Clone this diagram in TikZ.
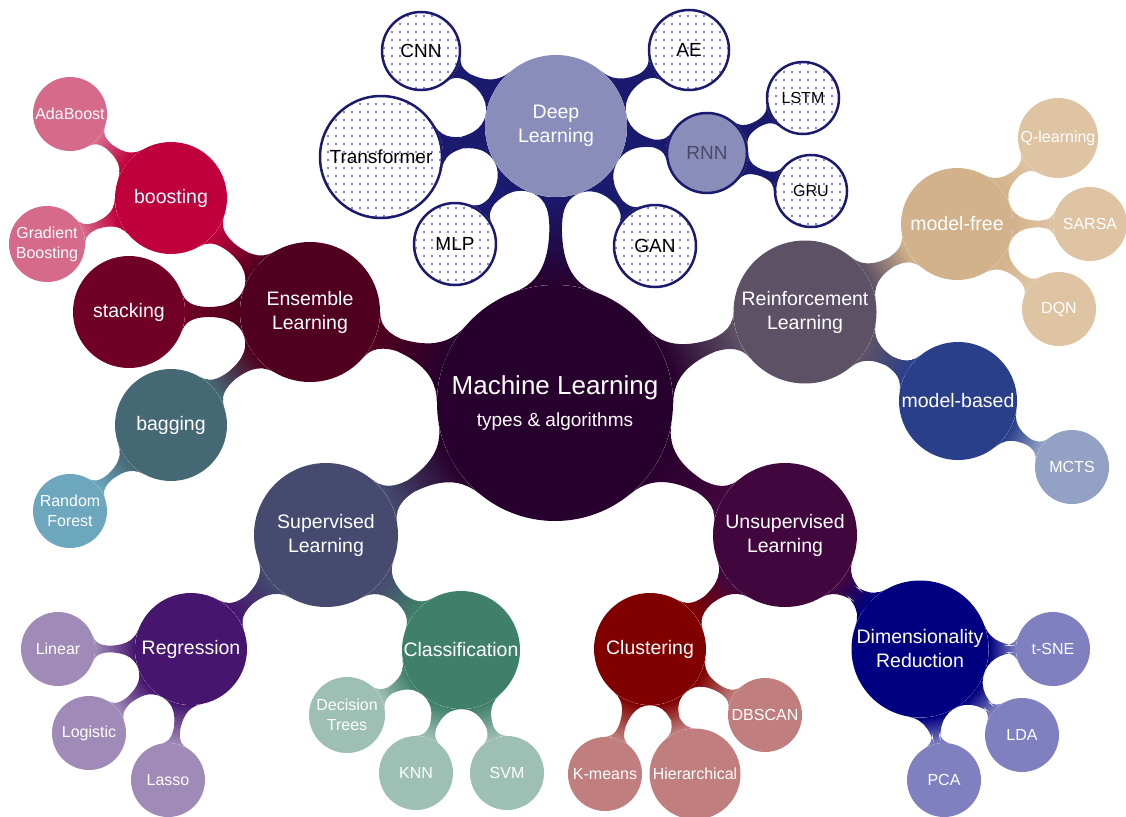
\documentclass[tikz,border=0pt]{standalone}
\usepackage{fontspec}
\setmainfont{Liberation Sans}
\usetikzlibrary{mindmap,backgrounds,patterns.meta}
\definecolor{cRoot}{RGB}{40,0,45}
\definecolor{cDL}{RGB}{138,140,186}
\definecolor{cDot}{RGB}{130,128,196}
\definecolor{cNavy}{RGB}{26,26,110}
\definecolor{cEns}{RGB}{80,0,30}
\definecolor{cRL}{RGB}{93,81,102}
\definecolor{cSup}{RGB}{69,74,110}
\definecolor{cUns}{RGB}{66,6,62}
\definecolor{cBoost}{RGB}{192,0,60}
\definecolor{cStack}{RGB}{112,0,37}
\definecolor{cBag}{RGB}{69,104,117}
\definecolor{cPink}{RGB}{214,106,139}
\definecolor{cRF}{RGB}{108,167,189}
\definecolor{cMF}{RGB}{209,178,139}
\definecolor{cMB}{RGB}{42,63,138}
\definecolor{cTan}{RGB}{223,196,164}
\definecolor{cMCTS}{RGB}{147,161,197}
\definecolor{cReg}{RGB}{70,22,110}
\definecolor{cCla}{RGB}{64,128,106}
\definecolor{cLPurp}{RGB}{160,138,184}
\definecolor{cLGreen}{RGB}{158,191,179}
\definecolor{cClu}{RGB}{128,0,0}
\definecolor{cDim}{RGB}{0,0,128}
\definecolor{cLRed}{RGB}{192,127,126}
\definecolor{cLBlue}{RGB}{128,128,192}
\definecolor{cRNNtext}{RGB}{74,74,106}
\begin{document}
\begin{tikzpicture}[x=1pt,y=1pt,
  bub/.style={circle,inner sep=0pt,align=center,text=white,font=\fontsize{19.5}{24}\selectfont},
  leaf/.style={bub,font=\fontsize{16}{20}\selectfont},
  dotted node/.style={circle,inner sep=0pt,align=center,text=black,draw=cNavy,line width=2.5pt,
    preaction={fill=white},pattern={Dots[distance=8pt,radius=1.3pt]},pattern color=cDot,
    font=\fontsize{19}{23}\selectfont},
  bar1/.style={line width=16pt},
  bar2/.style={line width=10pt},
  bar3/.style={line width=7pt},
]
\useasboundingbox (0,0) rectangle (1126,-816);
% root
\node[bub,fill=cRoot,minimum size=236pt] (root) at (555,-403)
  {\fontsize{26}{30}\selectfont Machine Learning\\[8pt]\fontsize{19}{22}\selectfont types \& algorithms};
% level 1
\node[bub,fill=cDL,minimum size=142pt] (dl) at (556,-126) {Deep\\Learning};
\node[bub,fill=cEns,minimum size=140pt] (ens) at (310,-312) {Ensemble\\Learning};
\node[bub,fill=cRL,minimum size=143pt] (rl) at (805,-312) {Reinforcement\\Learning};
\node[bub,fill=cSup,minimum size=144pt] (sup) at (326,-535) {Supervised\\Learning};
\node[bub,fill=cUns,minimum size=144pt] (uns) at (785,-535) {Unsupervised\\Learning};
% deep learning children
\node[dotted node,minimum size=78pt] (cnn) at (421,-51) {CNN};
\node[dotted node,minimum size=80pt] (ae) at (689,-50) {AE};
\node[dotted node,minimum size=122pt] (tr) at (381,-157) {Transformer};
\node[dotted node,minimum size=82pt] (mlp) at (455,-244) {MLP};
\node[dotted node,minimum size=82pt] (gan) at (655,-246) {GAN};
\node[bub,fill=cDL,draw=cNavy,line width=2.5pt,text=cRNNtext,font=\fontsize{19}{23}\selectfont,minimum size=80pt] (rnn) at (707,-153) {RNN};
\node[dotted node,minimum size=72pt,font=\fontsize{16}{20}\selectfont] (lstm) at (803,-98) {LSTM};
\node[dotted node,minimum size=72pt,font=\fontsize{16}{20}\selectfont] (gru) at (811,-191) {GRU};
% ensemble children
\node[bub,fill=cBoost,minimum size=112pt] (boost) at (171,-198) {boosting};
\node[bub,fill=cStack,minimum size=112pt] (stack) at (129,-312) {stacking};
\node[bub,fill=cBag,minimum size=112pt] (bag) at (171,-425) {bagging};
\node[leaf,fill=cPink,minimum size=74pt] (ada) at (70,-114) {AdaBoost};
\node[leaf,fill=cPink,minimum size=76pt] (gb) at (47,-244) {Gradient\\Boosting};
\node[leaf,fill=cRF,minimum size=74pt] (rf) at (70,-511) {Random\\Forest};
% reinforcement children
\node[bub,fill=cMF,minimum size=112pt] (mf) at (957,-224) {model-free};
\node[bub,fill=cMB,minimum size=118pt] (mb) at (958,-401) {model-based};
\node[leaf,fill=cTan,minimum size=80pt] (ql) at (1058,-138) {Q-learning};
\node[leaf,fill=cTan,minimum size=74pt] (sarsa) at (1090,-224) {SARSA};
\node[leaf,fill=cTan,minimum size=74pt] (dqn) at (1059,-309) {DQN};
\node[leaf,fill=cMCTS,minimum size=74pt] (mcts) at (1072,-467) {MCTS};
% supervised children
\node[bub,fill=cReg,minimum size=112pt] (reg) at (191,-649) {Regression};
\node[bub,fill=cCla,minimum size=118pt] (cla) at (461,-650) {Classification};
\node[leaf,fill=cLPurp,minimum size=74pt] (lin) at (58,-649) {Linear};
\node[leaf,fill=cLPurp,minimum size=74pt] (log) at (89,-733) {Logistic};
\node[leaf,fill=cLPurp,minimum size=74pt] (las) at (168,-780) {Lasso};
\node[leaf,fill=cLGreen,minimum size=76pt] (dt) at (347,-715) {Decision\\Trees};
\node[leaf,fill=cLGreen,minimum size=74pt] (knn) at (416,-773) {KNN};
\node[leaf,fill=cLGreen,minimum size=74pt] (svm) at (507,-773) {SVM};
% unsupervised children
\node[bub,fill=cClu,minimum size=112pt] (clu) at (650,-649) {Clustering};
\node[bub,fill=cDim,minimum size=137pt] (dim) at (920,-649) {Dimensionality\\Reduction};
\node[leaf,fill=cLRed,minimum size=74pt] (km) at (605,-774) {K-means};
\node[leaf,fill=cLRed,minimum size=91pt] (hier) at (695,-774) {Hierarchical};
\node[leaf,fill=cLRed,minimum size=74pt] (dbs) at (765,-715) {DBSCAN};
\node[leaf,fill=cLBlue,minimum size=74pt] (tsne) at (1053,-649) {t-SNE};
\node[leaf,fill=cLBlue,minimum size=74pt] (lda) at (1022,-735) {LDA};
\node[leaf,fill=cLBlue,minimum size=74pt] (pca) at (944,-780) {PCA};
% connectors
\begin{scope}[on background layer]
\path[bar1] (root) to[circle connection bar switch color=from (cRoot) to (cNavy)] (dl);
\path[bar1] (root) to[circle connection bar switch color=from (cRoot) to (cEns)] (ens);
\path[bar1] (root) to[circle connection bar switch color=from (cRoot) to (cRL)] (rl);
\path[bar1] (root) to[circle connection bar switch color=from (cRoot) to (cSup)] (sup);
\path[bar1] (root) to[circle connection bar switch color=from (cRoot) to (cUns)] (uns);
\foreach \n in {cnn,ae,tr,mlp,gan,rnn}
  \path[bar2] (dl) to[circle connection bar switch color=from (cNavy) to (cNavy)] (\n);
\path[bar3] (rnn) to[circle connection bar switch color=from (cNavy) to (cNavy)] (lstm);
\path[bar3] (rnn) to[circle connection bar switch color=from (cNavy) to (cNavy)] (gru);
\path[bar2] (ens) to[circle connection bar switch color=from (cEns) to (cBoost)] (boost);
\path[bar2] (ens) to[circle connection bar switch color=from (cEns) to (cStack)] (stack);
\path[bar2] (ens) to[circle connection bar switch color=from (cEns) to (cBag)] (bag);
\path[bar3] (boost) to[circle connection bar switch color=from (cBoost) to (cPink)] (ada);
\path[bar3] (boost) to[circle connection bar switch color=from (cBoost) to (cPink)] (gb);
\path[bar3] (bag) to[circle connection bar switch color=from (cBag) to (cRF)] (rf);
\path[bar2] (rl) to[circle connection bar switch color=from (cRL) to (cMF)] (mf);
\path[bar2] (rl) to[circle connection bar switch color=from (cRL) to (cMB)] (mb);
\path[bar3] (mf) to[circle connection bar switch color=from (cMF) to (cTan)] (ql);
\path[bar3] (mf) to[circle connection bar switch color=from (cMF) to (cTan)] (sarsa);
\path[bar3] (mf) to[circle connection bar switch color=from (cMF) to (cTan)] (dqn);
\path[bar3] (mb) to[circle connection bar switch color=from (cMB) to (cMCTS)] (mcts);
\path[bar2] (sup) to[circle connection bar switch color=from (cSup) to (cReg)] (reg);
\path[bar2] (sup) to[circle connection bar switch color=from (cSup) to (cCla)] (cla);
\path[bar3] (reg) to[circle connection bar switch color=from (cReg) to (cLPurp)] (lin);
\path[bar3] (reg) to[circle connection bar switch color=from (cReg) to (cLPurp)] (log);
\path[bar3] (reg) to[circle connection bar switch color=from (cReg) to (cLPurp)] (las);
\path[bar3] (cla) to[circle connection bar switch color=from (cCla) to (cLGreen)] (dt);
\path[bar3] (cla) to[circle connection bar switch color=from (cCla) to (cLGreen)] (knn);
\path[bar3] (cla) to[circle connection bar switch color=from (cCla) to (cLGreen)] (svm);
\path[bar2] (uns) to[circle connection bar switch color=from (cUns) to (cClu)] (clu);
\path[bar2] (uns) to[circle connection bar switch color=from (cUns) to (cDim)] (dim);
\path[bar3] (clu) to[circle connection bar switch color=from (cClu) to (cLRed)] (km);
\path[bar3] (clu) to[circle connection bar switch color=from (cClu) to (cLRed)] (hier);
\path[bar3] (clu) to[circle connection bar switch color=from (cClu) to (cLRed)] (dbs);
\path[bar3] (dim) to[circle connection bar switch color=from (cDim) to (cLBlue)] (tsne);
\path[bar3] (dim) to[circle connection bar switch color=from (cDim) to (cLBlue)] (lda);
\path[bar3] (dim) to[circle connection bar switch color=from (cDim) to (cLBlue)] (pca);
\end{scope}
\end{tikzpicture}
\end{document}
